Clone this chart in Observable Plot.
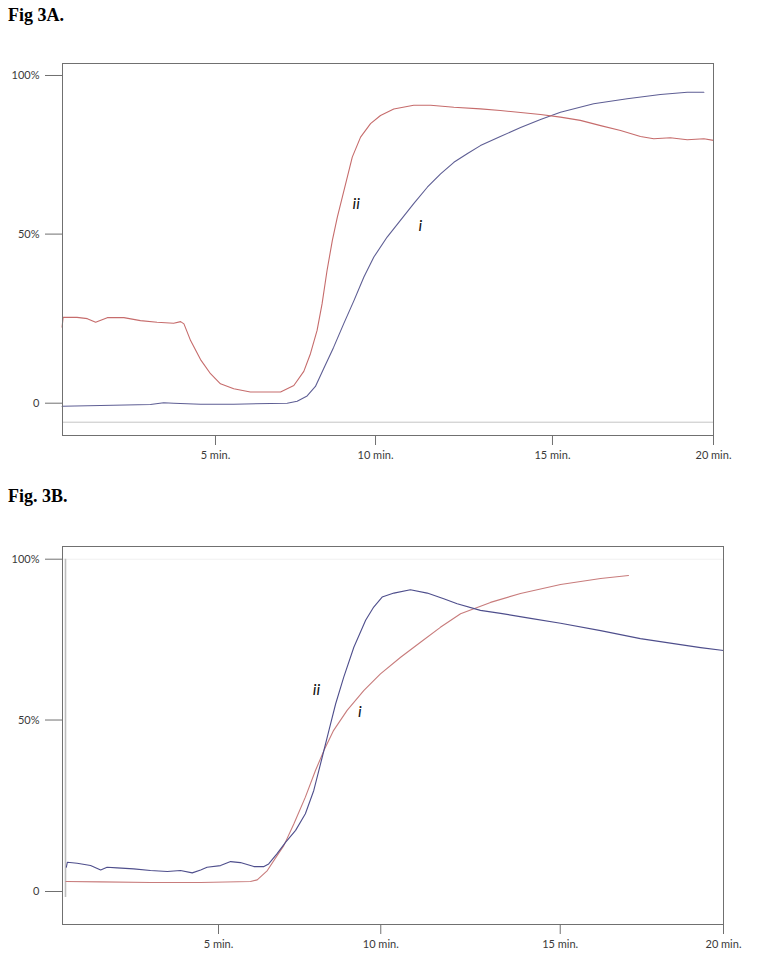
<!DOCTYPE html>
<html>
<head>
<meta charset="utf-8">
<script src="https://cdn.jsdelivr.net/npm/d3@7"></script>
<script src="https://cdn.jsdelivr.net/npm/@observablehq/plot@0.6"></script>
<style>
  html, body { margin: 0; padding: 0; background: #fff; overflow: hidden; }
  #wrap { position: relative; width: 762px; height: 956px; }
  .title { position: absolute; left: 8px; font-family: "Liberation Serif", "Times New Roman", serif;
           font-weight: bold; font-size: 18px; line-height: 18px; color: #000; white-space: nowrap; }
  .panel { position: absolute; left: 0; }
</style>
</head>
<body>
<div id="wrap">
  <div class="title" style="top:6px">Fig 3A.</div>
  <div class="title" style="top:487px">Fig. 3B.</div>
  <div class="panel" id="pA" style="top:0px"></div>
  <div class="panel" id="pB" style="top:483px"></div>
</div>
<script>
// ---- tick positions / labels ----
const xTickPos = [5, 9.82, 15.15, 20];
const xTickLabels = ["5 min.", "10 min.", "15 min.", "20 min."];
const yTickPos = [0, 51.6, 100];
const yTickLabels = ["0", "50%", "100%"];

// ---- Fig 3A: [time (min), signal (%)] ----
const figA_i = [[0.38,-0.92],[1.54,-0.70],[3.04,-0.40],[3.44,0.12],[3.74,0],[4.55,-0.31],[5.55,-0.31],
  [7.16,0],[7.46,0.61],[7.76,2.2],[8.01,5.1],[8.26,10.6],[8.56,17.1],[8.86,24.2],[9.17,31.3],[9.47,38.5],
  [9.77,44.6],[10.17,50.7],[10.57,55.8],[10.97,60.9],[11.38,65.9],[11.78,70.0],[12.18,73.5],[12.58,76.1],
  [12.98,78.6],[13.58,81.4],[14.19,84.1],[14.79,86.6],[15.39,88.8],[16.39,91.4],[17.40,92.9],[18.40,94.2],
  [19.21,94.9],[19.71,94.9]];
const figA_ii = [[0.38,23.2],[0.41,26.2],[0.53,26.2],[0.83,26.2],[1.14,25.8],[1.39,24.7],[1.74,26.1],
  [2.24,26.1],[2.74,25.2],[3.24,24.7],[3.74,24.4],[3.95,24.9],[4.05,24.2],[4.25,19.1],[4.55,13.3],
  [4.85,9.0],[5.15,5.9],[5.55,4.4],[6.05,3.4],[6.56,3.4],[6.96,3.4],[7.36,5.4],[7.66,9.7],[7.86,15.1],
  [8.06,22.2],[8.21,30.3],[8.36,40.5],[8.52,49.7],[8.67,56.8],[8.82,62.9],[8.97,69.0],[9.12,75.1],
  [9.37,81.2],[9.67,85.3],[9.97,87.8],[10.37,89.8],[10.97,90.9],[11.48,90.9],[12.18,90.3],[12.98,89.8],
  [13.58,89.3],[14.19,88.7],[14.79,88.1],[15.39,87.3],[15.99,86.3],[16.60,84.7],[17.20,83.2],[17.80,81.4],
  [18.20,80.7],[18.70,81.0],[19.21,80.4],[19.71,80.7],[20.0,80.2]];
const figA_baseline = [-5.8];
const figA_labels = [{t: 9.24, v: 60.85, text: "ii"}, {t: 11.17, v: 54.2, text: "i"}];

// ---- Fig 3B: [time (min), signal (%)] ----
const figB_ii = [[0.48,7.3],[0.51,8.8],[0.80,8.5],[1.20,7.8],[1.50,6.5],[1.69,7.3],[1.99,7.1],[2.48,6.8],
  [2.98,6.3],[3.48,6.0],[3.87,6.3],[4.22,5.6],[4.47,6.5],[4.66,7.3],[5.06,7.8],[5.36,9.0],[5.65,8.7],
  [6.05,7.5],[6.35,7.5],[6.49,8.3],[6.74,11.4],[6.99,14.8],[7.29,18.4],[7.58,23.4],[7.83,30.4],[8.08,40.4],
  [8.28,48.5],[8.48,56.5],[8.72,64.5],[9.02,73.5],[9.37,81.6],[9.61,85.6],[9.86,88.6],[10.21,89.8],
  [10.70,90.8],[11.20,89.8],[11.69,88.1],[12.09,86.6],[12.78,84.6],[13.38,83.7],[14.27,82.2],[15.16,80.7],
  [16.35,78.5],[17.53,76.1],[18.72,74.3],[19.32,73.4],[20.0,72.5]];
const figB_i = [[0.47,3.0],[1.50,2.9],[2.98,2.7],[4.47,2.7],[5.95,3.0],[6.15,3.5],[6.45,6.3],[6.74,10.8],
  [6.94,13.8],[7.24,20.4],[7.58,28.4],[7.88,36.4],[8.13,42.4],[8.42,48.5],[8.82,54.5],[9.32,60.5],
  [9.81,65.5],[10.41,70.5],[11.00,75.0],[11.59,79.5],[12.19,83.6],[13.08,87.0],[13.97,89.7],[15.16,92.4],
  [16.35,94.2],[17.18,95.1]];
const figB_marker = [{t: 0.455, v1: -1.8, v2: 100}];
const figB_labels = [{t: 7.91, v: 60.8, text: "ii"}, {t: 9.20, v: 54.0, text: "i"}];

const xFmt = new Map(xTickPos.map((d, i) => [d, xTickLabels[i]]));
const yFmt = new Map(yTickPos.map((d, i) => [d, yTickLabels[i]]));

function axes() {
  return [
    Plot.axisX({ticks: xTickPos, tickFormat: d => xFmt.get(d), tickSize: 10, tickPadding: 6,
                stroke: "#707070", fill: "#3a3a3a", label: null}),
    Plot.axisY({ticks: yTickPos, tickFormat: d => yFmt.get(d), tickSize: 17, tickPadding: 6,
                stroke: "#707070", fill: "#3a3a3a", label: null})
  ];
}
const style = {fontFamily: "Lato, 'Open Sans', sans-serif", fontSize: "11px", background: "transparent", overflow: "visible"};
const labelFont = {fontFamily: "Lato, 'Open Sans', sans-serif", fontSize: 16, fontStyle: "italic", fill: "#111"};

const plotA = Plot.plot({
  width: 762, height: 470,
  marginLeft: 62, marginRight: 49, marginTop: 63, marginBottom: 35,
  style,
  x: {domain: [0.392, 20]},
  y: {domain: [-9.86, 103.66]},
  marks: [
    Plot.ruleY(figA_baseline, {stroke: "#c4c4c4", strokeWidth: 1}),
    Plot.line(figA_i, {x: d => d[0], y: d => d[1], stroke: "#5e5e94", strokeWidth: 1.1}),
    Plot.line(figA_ii, {x: d => d[0], y: d => d[1], stroke: "#c66c6c", strokeWidth: 1.1}),
    Plot.text(figA_labels, {x: "t", y: "v", text: "text", ...labelFont}),
    Plot.frame({stroke: "#707070", strokeWidth: 1}),
    ...axes()
  ]
});
document.getElementById("pA").append(plotA);

const plotB = Plot.plot({
  width: 762, height: 471,
  marginLeft: 62, marginRight: 39, marginTop: 63, marginBottom: 30,
  style,
  x: {domain: [0.366, 20]},
  y: {domain: [-9.93, 103.82]},
  marks: [
    Plot.ruleY([100], {stroke: "#f0f0f0", strokeWidth: 1}),
    Plot.ruleX(figB_marker, {x: "t", y1: "v1", y2: "v2", stroke: "#bdbdbd", strokeWidth: 1.6}),
    Plot.line(figB_i, {x: d => d[0], y: d => d[1], stroke: "#c87c7c", strokeWidth: 1.1}),
    Plot.line(figB_ii, {x: d => d[0], y: d => d[1], stroke: "#4e4e8c", strokeWidth: 1.1}),
    Plot.text(figB_labels, {x: "t", y: "v", text: "text", ...labelFont}),
    Plot.frame({stroke: "#707070", strokeWidth: 1}),
    ...axes()
  ]
});
document.getElementById("pB").append(plotB);
</script>
</body>
</html>
